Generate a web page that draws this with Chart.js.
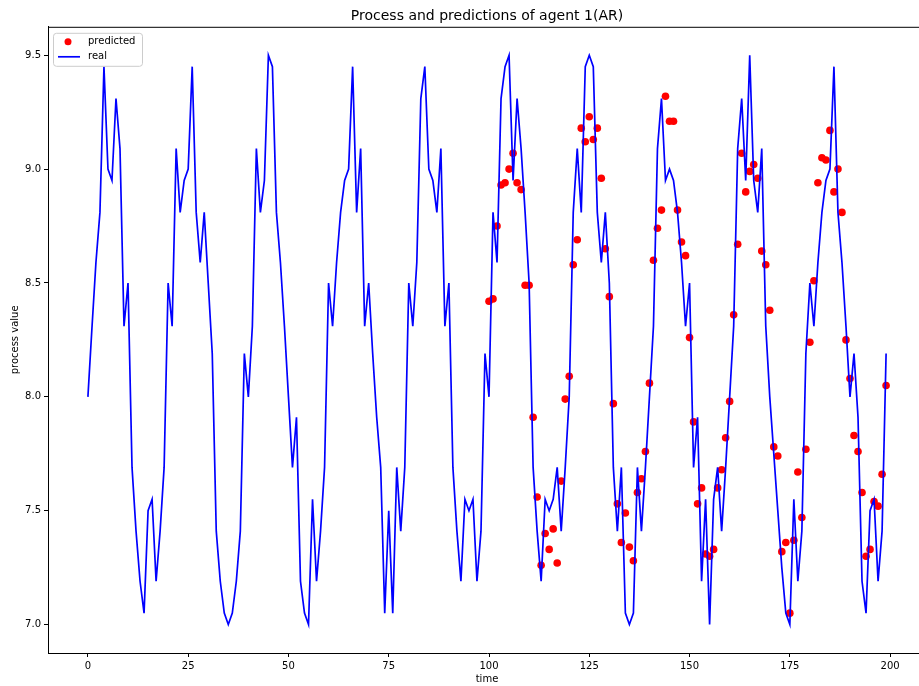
<!DOCTYPE html>
<html>
<head>
<meta charset="utf-8">
<title>Process and predictions of agent 1(AR)</title>
<script src="https://cdn.jsdelivr.net/npm/chart.js@4.4.1/dist/chart.umd.min.js"></script>
<style>
    html, body { margin: 0; padding: 0; background: #fff; overflow: hidden; }
    #wrap { width: 919px; height: 686px; overflow: hidden; }
</style>
</head>
<body>
<div id="wrap">
    <canvas id="agentChart" width="930" height="686"></canvas>
</div>
<script>
// real process, t = 0..199
const realValues = [
    8.0, 8.3, 8.59, 8.81, 9.45, 9.0, 8.95, 9.31, 9.09, 8.31,
    8.5, 7.69, 7.41, 7.19, 7.05, 7.5, 7.55, 7.19, 7.41, 7.69,
    8.5, 8.31, 9.09, 8.81, 8.95, 9.0, 9.45, 8.81, 8.59, 8.81,
    8.5, 8.19, 7.41, 7.19, 7.05, 7.0, 7.05, 7.19, 7.41, 8.19,
    8.0, 8.31, 9.09, 8.81, 8.95, 9.5, 9.45, 8.81, 8.59, 8.31,
    8.0, 7.69, 7.91, 7.19, 7.05, 7.0, 7.55, 7.19, 7.41, 7.69,
    8.5, 8.31, 8.59, 8.81, 8.95, 9.0, 9.45, 8.81, 9.09, 8.31,
    8.5, 8.19, 7.91, 7.69, 7.05, 7.5, 7.05, 7.69, 7.41, 7.69,
    8.5, 8.31, 8.59, 9.31, 9.45, 9.0, 8.95, 8.81, 9.09, 8.31,
    8.5, 7.69, 7.41, 7.19, 7.55, 7.5, 7.55, 7.19, 7.41, 8.19,
    8.0, 8.81, 8.59, 9.31, 9.45, 9.5, 8.95, 9.31, 9.09, 8.81,
    8.5, 7.69, 7.41, 7.19, 7.55, 7.5, 7.55, 7.69, 7.41, 7.69,
    8.0, 8.81, 9.09, 8.81, 9.45, 9.5, 9.45, 8.81, 8.59, 8.81,
    8.5, 7.69, 7.41, 7.69, 7.05, 7.0, 7.05, 7.69, 7.41, 7.69,
    8.0, 8.31, 9.09, 9.31, 8.95, 9.0, 8.95, 8.81, 8.59, 8.31,
    8.5, 7.69, 7.91, 7.19, 7.55, 7.0, 7.55, 7.69, 7.41, 7.69,
    8.0, 8.31, 9.09, 9.31, 8.95, 9.5, 8.95, 8.81, 9.09, 8.31,
    8.0, 7.75, 7.5, 7.25, 7.05, 7.0, 7.55, 7.19, 7.41, 8.19,
    8.5, 8.31, 8.59, 8.81, 8.95, 9.0, 9.45, 8.81, 8.59, 8.31,
    8.0, 8.19, 7.91, 7.19, 7.05, 7.5, 7.55, 7.19, 7.41, 8.19
];

// predictions start at t = 100
const predStart = 100;
const predictedValues = [
    8.42, 8.43, 8.75, 8.93, 8.94, 9.0, 9.07, 8.94, 8.91, 8.49,
    8.49, 7.91, 7.56, 7.26, 7.40, 7.33, 7.42, 7.27, 7.63, 7.99,
    8.09, 8.58, 8.69, 9.18, 9.12, 9.23, 9.13, 9.18, 8.96, 8.65,
    8.44, 7.97, 7.53, 7.36, 7.49, 7.34, 7.28, 7.58, 7.64, 7.76,
    8.06, 8.60, 8.74, 8.82, 9.32, 9.21, 9.21, 8.82, 8.68, 8.62,
    8.26, 7.89, 7.53, 7.60, 7.31, 7.30, 7.33, 7.60, 7.68, 7.82,
    7.98, 8.36, 8.67, 9.07, 8.90, 8.99, 9.02, 8.96, 8.64, 8.58,
    8.38, 7.78, 7.74, 7.32, 7.36, 7.05, 7.37, 7.67, 7.47, 7.77,
    8.24, 8.51, 8.94, 9.05, 9.04, 9.17, 8.90, 9.0, 8.81, 8.25,
    8.08, 7.83, 7.76, 7.58, 7.30, 7.33, 7.54, 7.52, 7.66, 8.05
];

const xTicks = [0, 25, 50, 75, 100, 125, 150, 175, 200];
const yTicks = [7.0, 7.5, 8.0, 8.5, 9.0, 9.5];

const fontFamily = "'DejaVu Sans', 'Liberation Sans', sans-serif";

// top spine + matplotlib style legend box
const framePlugin = {
    id: 'frame',
    afterDraw(chart) {
        const ctx = chart.ctx;
        const area = chart.chartArea;
        ctx.save();
        ctx.strokeStyle = '#000';
        ctx.lineWidth = 1;
        ctx.beginPath();
        ctx.moveTo(area.left, area.top + 0.5);
        ctx.lineTo(area.right, area.top + 0.5);
        ctx.stroke();

        // legend
        const bx = area.left + 5, by = area.top + 6, bw = 89, bh = 33;
        ctx.fillStyle = 'rgba(255,255,255,0.8)';
        ctx.strokeStyle = '#cccccc';
        ctx.beginPath();
        ctx.roundRect(bx + 0.5, by + 0.5, bw, bh, 3);
        ctx.fill();
        ctx.stroke();

        ctx.fillStyle = '#ff0000';
        ctx.beginPath();
        ctx.arc(bx + 15, by + 9, 3.5, 0, Math.PI * 2);
        ctx.fill();

        ctx.strokeStyle = '#0000ff';
        ctx.lineWidth = 1.7;
        ctx.beginPath();
        ctx.moveTo(bx + 5, by + 24);
        ctx.lineTo(bx + 27, by + 24);
        ctx.stroke();

        ctx.fillStyle = '#000';
        ctx.font = '10px ' + fontFamily;
        ctx.textBaseline = 'middle';
        ctx.textAlign = 'left';
        ctx.fillText('predicted', bx + 35, by + 9);
        ctx.fillText('real', bx + 35, by + 24);
        ctx.restore();
    }
};

const ctx = document.getElementById('agentChart').getContext('2d');
const agentChart = new Chart(ctx, {
    type: 'scatter',
    data: {
        datasets: [
            {
                label: 'real',
                data: realValues.map((v, i) => ({ x: i, y: v })),
                showLine: true,
                borderColor: '#0000ff',
                borderWidth: 1.7,
                pointRadius: 0,
                tension: 0,
                fill: false
            },
            {
                label: 'predicted',
                data: predictedValues.map((v, i) => ({ x: predStart + i, y: v })),
                showLine: false,
                backgroundColor: '#ff0000',
                borderWidth: 0,
                pointRadius: 3.8
            }
        ]
    },
    options: {
        responsive: false,
        animation: false,
        layout: { padding: { left: 0, right: 4, top: 0, bottom: 0 } },
        plugins: {
            legend: { display: false },
            tooltip: { enabled: false },
            title: {
                display: true,
                text: 'Process and predictions of agent 1(AR)',
                color: '#000',
                fullSize: false,
                font: { family: fontFamily, size: 14, weight: 'normal' },
                padding: { top: 8, bottom: 2 }
            }
        },
        scales: {
            x: {
                type: 'linear',
                min: -9.95,
                max: 208.95,
                afterBuildTicks: s => { s.ticks = xTicks.map(v => ({ value: v })); },
                afterFit: s => { s.height = 33; },
                ticks: {
                    color: '#000',
                    font: { family: fontFamily, size: 10 },
                    padding: 3,
                    maxRotation: 0,
                    autoSkip: false
                },
                grid: { drawOnChartArea: false, drawTicks: true, tickLength: 4, color: '#000' },
                border: { display: true, color: '#000', width: 1 },
                title: {
                    display: true,
                    text: 'time',
                    color: '#000',
                    font: { family: fontFamily, size: 10 },
                    padding: { top: 0, bottom: 1 }
                }
            },
            y: {
                type: 'linear',
                min: 6.875,
                max: 9.625,
                afterBuildTicks: s => { s.ticks = yTicks.map(v => ({ value: v })); },
                afterFit: s => { s.width = 48; },
                ticks: {
                    color: '#000',
                    font: { family: fontFamily, size: 10 },
                    padding: 3,
                    callback: v => Number(v).toFixed(1)
                },
                grid: { drawOnChartArea: false, drawTicks: true, tickLength: 4, color: '#000' },
                border: { display: true, color: '#000', width: 1 },
                title: {
                    display: true,
                    text: 'process value',
                    color: '#000',
                    font: { family: fontFamily, size: 10 },
                    padding: { top: 9, bottom: 0 }
                }
            }
        }
    },
    plugins: [framePlugin]
});
</script>
</body>
</html>
